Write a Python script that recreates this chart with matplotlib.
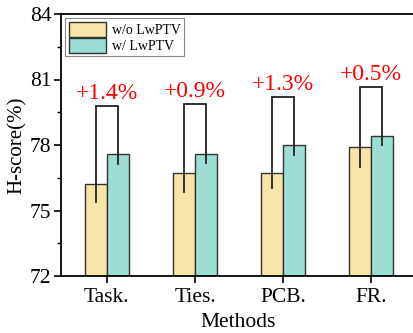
import matplotlib
matplotlib.use("Agg")
import matplotlib.pyplot as plt
import numpy as np
from matplotlib.ticker import MultipleLocator

methods = ["Task.", "Ties.", "PCB.", "FR."]
wo_vals = [76.2, 76.7, 76.7, 77.9]
w_vals = [77.6, 77.6, 78.0, 78.4]
wo_err = [0.8, 0.85, 0.65, 0.9]
w_err = [0.45, 0.43, 0.48, 0.42]
bracket_tops = [79.8, 79.87, 80.2, 80.67]
gains = ["+1.4%", "+0.9%", "+1.3%", "+0.5%"]

plt.rcParams['font.family'] = ['Liberation Serif', 'DejaVu Serif']
plt.rcParams['mathtext.fontset'] = 'stix'

fig = plt.figure(figsize=(4.14, 3.33), dpi=100)
ax = fig.add_axes([61/414, 1-276/333, (414.5-61)/414, (276-14)/333])

x = np.arange(len(methods))
w = 0.25
c_wo = "#F7E4A8"
c_w = "#9CDDD4"
ax.bar(x - w/2, wo_vals, w, color=c_wo, edgecolor="#333333", linewidth=1.0, label="w/o LwPTV", zorder=2)
ax.bar(x + w/2, w_vals, w, color=c_w, edgecolor="#333333", linewidth=1.0, label="w/ LwPTV", zorder=2)

for i in range(len(methods)):
    xl = x[i] - w/2
    xr = x[i] + w/2
    top = bracket_tops[i]
    ax.plot([xl, xl, xr, xr], [wo_vals[i] - wo_err[i], top, top, w_vals[i] - w_err[i]],
            color="#222222", lw=1.3, zorder=3, solid_joinstyle='miter')
    ax.text(x[i], top + 0.08, gains[i], color="red", fontsize=17, ha="center", va="bottom")

ax.set_ylim(72, 84)
ax.set_xlim(-0.52, 3.49)
ax.set_yticks([72, 75, 78, 81, 84])
ax.yaxis.set_minor_locator(MultipleLocator(1.5))
ax.set_xticks(x)
ax.set_xticklabels(methods)
ax.tick_params(axis='both', which='major', direction='out', length=5, width=1.2, labelsize=15.5, pad=2)
ax.tick_params(axis='x', which='major', pad=4)
ax.tick_params(axis='y', which='minor', direction='out', length=3, width=1.0)
ax.tick_params(top=False, right=False)
for s in ax.spines.values():
    s.set_linewidth(1.3)
ax.set_ylabel("H-score(%)", fontsize=15, labelpad=2)
ax.set_xlabel("Methods", fontsize=15.5, labelpad=4)

leg = ax.legend(loc="upper left", fontsize=10, handlelength=2.7, handleheight=1.3,
                borderpad=0.25, labelspacing=0.05, handletextpad=0.4, borderaxespad=0.3,
                fancybox=False, edgecolor="#888888", framealpha=1)
leg.get_frame().set_linewidth(0.8)

fig.savefig("out.png", dpi=100)
